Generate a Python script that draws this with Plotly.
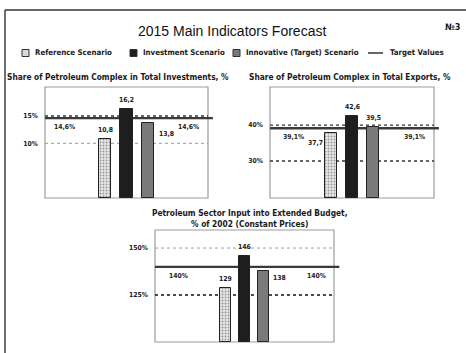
import plotly.graph_objects as go

W, H = 466, 353

# ---- data -------------------------------------------------------------
scenarios = ["Reference Scenario", "Investment Scenario", "Innovative (Target) Scenario"]

invest_share = [10.8, 16.2, 13.8]      # % of total investments
invest_target = 14.6
invest_ticks = [10, 15]

export_share = [37.7, 42.6, 39.5]      # % of total exports
export_target = 39.1
export_ticks = [30, 40]

budget_input = [129, 146, 138]         # % of 2002, constant prices
budget_target = 140
budget_ticks = [125, 150]

panel_titles = [
    "Share of Petroleum Complex in Total Investments, %",
    "Share of Petroleum Complex in Total Exports, %",
    "Petroleum Sector Input into Extended Budget,<br>% of 2002 (Constant Prices)",
]

# ---- styling ----------------------------------------------------------
NARROW = "DejaVu Sans Condensed, Liberation Sans Narrow, Arial Narrow, Liberation Sans, sans-serif"
TXT = "#1a1a1a"
SMALL = 6.8
bar_fill = ["#e6e6e6", "#1e1e1e", "#7a7a7a"]
bar_pattern = [".", "", ""]


def px_x(v):
    return v / W


def px_y(v):
    return 1 - v / H


def fmt(v, pct=False):
    s = f"{v:g}".replace(".", ",")
    return s + ("%" if pct else "")


def bold(s):
    return "<b>" + s + "</b>"


fig = go.Figure()

panels = [
    dict(vals=invest_share, target=invest_target, ticks=invest_ticks,
         xd=(45, 208), yd=(87, 198), xr=[-2.8, 4.8], yr=[0, 20.3], bw=0.6,
         grid=[("#9a9a9a", 1), ("#333333", 1.3)], ax=""),
    dict(vals=export_share, target=export_target, ticks=export_ticks,
         xd=(270, 434), yd=(87, 198), xr=[-2.87, 4.87], yr=[19.7, 50.6], bw=0.55,
         grid=[("#333333", 1.3), ("#333333", 1.3)], ax="2"),
    dict(vals=budget_input, target=budget_target, ticks=budget_ticks,
         xd=(155, 334), yd=(230, 342), xr=[-3.7, 5.7], yr=[100, 159.6], bw=0.55,
         grid=[("#111111", 1.6), ("#a0a0a0", 1)], ax="3"),
]

label_pos = [
    # (xshift, yshift, xanchor, yanchor) for each bar's value label
    [(0, 3, "center", "bottom"), (0, 3, "center", "bottom"), (9, -5, "left", "top")],
    [(-6, -4, "right", "top"), (0, 3, "center", "bottom"), (0, 3, "center", "bottom")],
    [(0, 3, "center", "bottom"), (0, 3, "center", "bottom"), (7, -1, "left", "top")],
]
target_lbl_x = [(0.04, 0.955), (0.065, 0.96), (0.065, 0.965)]

shapes = []
annotations = []

for i, p in enumerate(panels):
    xa = "x" + p["ax"]
    ya = "y" + p["ax"]
    lo = p["yr"][0]
    fig.add_trace(go.Bar(
        x=scenarios, y=[v - lo for v in p["vals"]], base=lo,
        width=p["bw"], xaxis=xa, yaxis=ya, showlegend=False,
        marker=dict(color=bar_fill, line=dict(color="#222222", width=1),
                    pattern=dict(shape=bar_pattern, fgcolor="#a8a8a8",
                                 bgcolor="#e6e6e6", size=3, solidity=0.3)),
    ))

    layout_x = dict(domain=[px_x(p["xd"][0]), px_x(p["xd"][1])], range=p["xr"],
                    type="category", showticklabels=False, ticks="",
                    showgrid=False, zeroline=False, showline=False,
                    anchor=ya, fixedrange=True)
    layout_y = dict(domain=[px_y(p["yd"][1]), px_y(p["yd"][0])], range=p["yr"],
                    tickvals=p["ticks"], ticktext=[bold(f"{t}%") for t in p["ticks"]],
                    ticks="", ticklabelstandoff=6,
                    tickfont=dict(family=NARROW, size=SMALL, color=TXT),
                    showgrid=False, zeroline=False, showline=False,
                    anchor=xa, fixedrange=True)
    fig.update_layout(**{"xaxis" + p["ax"]: layout_x, "yaxis" + p["ax"]: layout_y})

    xdom = xa + " domain"
    ydom = ya + " domain"
    # panel frame
    shapes.append(dict(type="rect", xref=xdom, yref=ydom, x0=0, x1=1, y0=0, y1=1,
                       line=dict(color="#9c9c9c", width=1.2), layer="below"))
    # dotted reference lines
    for t, (col, lw) in zip(p["ticks"], p["grid"]):
        shapes.append(dict(type="line", xref=xdom, yref=ya, x0=0, x1=1, y0=t, y1=t,
                           line=dict(color=col, width=lw, dash="dot"), layer="below"))
    # target line
    shapes.append(dict(type="line", xref=xdom, yref=ya, x0=0, x1=1.03,
                       y0=p["target"], y1=p["target"],
                       line=dict(color="#3a3a3a", width=2.4), layer="below"))
    # target labels
    lx, rx = target_lbl_x[i]
    for xx, anc in ((lx, "left"), (rx, "right")):
        annotations.append(dict(xref=xdom, yref=ya, x=xx, y=p["target"], yshift=-3,
                                text=bold(fmt(p["target"], pct=True)), showarrow=False,
                                xanchor=anc, yanchor="top",
                                font=dict(family=NARROW, size=SMALL, color=TXT)))
    # value labels
    for k, v in enumerate(p["vals"]):
        xs, ys, xan, yan = label_pos[i][k]
        annotations.append(dict(xref=xa, yref=ya, x=scenarios[k], y=v,
                                xshift=xs, yshift=ys, xanchor=xan, yanchor=yan,
                                text=bold(fmt(v)), showarrow=False,
                                font=dict(family=NARROW, size=SMALL, color=TXT)))

# panel titles
title_pos = [(118, 77), (350, 77), (250, 218)]
for t, (cx, cy) in zip(panel_titles, title_pos):
    annotations.append(dict(xref="paper", yref="paper", x=px_x(cx), y=px_y(cy),
                            text=bold(t), showarrow=False, xanchor="center",
                            yanchor="middle",
                            font=dict(family=NARROW, size=8.3, color=TXT)))

# main title and sheet number
annotations.append(dict(xref="paper", yref="paper", x=px_x(232), y=px_y(31),
                        text="2015 Main Indicators Forecast", showarrow=False,
                        xanchor="center", yanchor="middle",
                        font=dict(family="Liberation Sans, Arial, sans-serif", size=14,
                                  color="#111")))
annotations.append(dict(xref="paper", yref="paper", x=px_x(452), y=px_y(27),
                        text=bold("№3"), showarrow=False, xanchor="center",
                        yanchor="middle",
                        font=dict(family=NARROW, size=9, color=TXT)))

# legend
leg_y = 53
leg_items = [(22, scenarios[0]), (130, scenarios[1]), (233, scenarios[2])]
for k, (lx, name) in enumerate(leg_items):
    shapes.append(dict(type="rect", xref="paper", yref="paper",
                       x0=px_x(lx), x1=px_x(lx + 7), y0=px_y(leg_y + 3.5), y1=px_y(leg_y - 3.5),
                       fillcolor=["#d8d8d8", "#1e1e1e", "#7a7a7a"][k],
                       line=dict(color="#333", width=1)))
    annotations.append(dict(xref="paper", yref="paper", x=px_x(lx + 11), y=px_y(leg_y),
                            text=bold(name), showarrow=False, xanchor="left",
                            yanchor="middle",
                            font=dict(family=NARROW, size=7.8, color=TXT)))
shapes.append(dict(type="line", xref="paper", yref="paper",
                   x0=px_x(368), x1=px_x(383), y0=px_y(leg_y), y1=px_y(leg_y),
                   line=dict(color="#333", width=1.5)))
annotations.append(dict(xref="paper", yref="paper", x=px_x(388), y=px_y(leg_y),
                        text=bold("Target Values"), showarrow=False, xanchor="left",
                        yanchor="middle",
                        font=dict(family=NARROW, size=7.8, color=TXT)))

# sheet frame (open on the right and bottom)
shapes.append(dict(type="line", xref="paper", yref="paper",
                   x0=px_x(5), x1=1.02, y0=px_y(10), y1=px_y(10),
                   line=dict(color="#333", width=1.4)))
shapes.append(dict(type="line", xref="paper", yref="paper",
                   x0=px_x(5), x1=px_x(5), y0=px_y(10), y1=-0.02,
                   line=dict(color="#333", width=1.4)))

fig.update_layout(
    width=W, height=H, margin=dict(l=0, r=0, t=0, b=0),
    paper_bgcolor="white", plot_bgcolor="rgba(0,0,0,0)",
    shapes=shapes, annotations=annotations, showlegend=False,
    bargap=0,
)

fig.write_html("out.html")
